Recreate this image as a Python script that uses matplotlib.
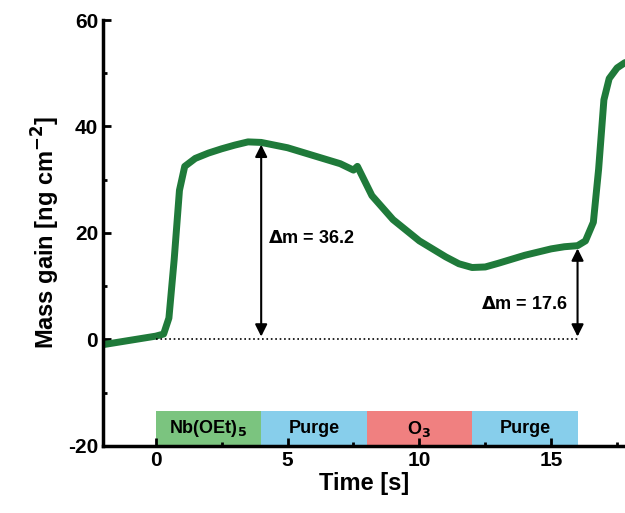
import matplotlib
matplotlib.use("Agg")
import matplotlib.pyplot as plt
import numpy as np

t = [-2, -1, 0, 0.3, 0.5, 0.7, 0.9, 1.1, 1.5, 2, 2.5, 3, 3.5, 4, 5, 6, 7, 7.5, 7.65, 7.8, 8.2, 9, 10, 11, 11.5, 12, 12.5, 13, 14, 15, 15.5, 16, 16.3, 16.6, 16.8, 17, 17.2, 17.5, 17.8]
m = [-1, -0.2, 0.6, 1, 4, 15, 28, 32.5, 34, 35, 35.8, 36.5, 37.1, 37, 36, 34.5, 33, 31.8, 32.5, 31, 27, 22.5, 18.5, 15.5, 14.2, 13.5, 13.6, 14.3, 15.8, 17, 17.4, 17.6, 18.5, 22, 32, 45, 49, 51, 52]
phases = ["Nb(OEt)$_5$", "Purge", "O$_3$", "Purge"]
starts = [0, 4, 8, 12]
ends = [4, 8, 12, 16]
colors = ["#7bc47f", "#87ceeb", "#f08080", "#87ceeb"]

plt.rcParams['font.family'] = ['Liberation Sans', 'DejaVu Sans']
plt.rcParams['font.weight'] = 'bold'
plt.rcParams['axes.unicode_minus'] = False
plt.rcParams['mathtext.default'] = 'bf'
fig = plt.figure(figsize=(6.25, 5.13), dpi=100)
ax = fig.add_axes([103 / 625, 0.131, 1 - 103 / 625, 0.83])
for s, e, c, lab in zip(starts, ends, colors, phases):
    ax.axvspan(s, e, ymin=0, ymax=(-13.5 + 20) / 80, color=c, lw=0)
    ax.text((s + e) / 2, -16.8, lab, ha='center', va='center', fontsize=13, fontweight='bold')
ax.plot(t, m, color='#1f7a3a', lw=5, solid_capstyle='round')
ax.plot([0, 16], [0, 0], color='black', ls=':', lw=1.2)
ax.annotate('', xy=(4, 37.1), xytext=(4, 0), arrowprops=dict(arrowstyle='<|-|>', color='black', lw=1.5, mutation_scale=18))
ax.annotate('', xy=(16, 17.6), xytext=(16, 0), arrowprops=dict(arrowstyle='<|-|>', color='black', lw=1.5, mutation_scale=18))
ax.text(4.25, 19, r'$\Delta$m = 36.2', fontsize=13, fontweight='bold', va='center')
ax.text(15.65, 6.5, r'$\Delta$m = 17.6', fontsize=13, fontweight='bold', va='center', ha='right')
ax.set_xticks([0, 5, 10, 15])
ax.set_yticks([-20, 0, 20, 40, 60])
ax.set_xticks(np.arange(-2.5, 18, 2.5), minor=True)
ax.set_yticks(np.arange(-20, 61, 10), minor=True)
ax.set_xlim(-2, 17.8)
ax.set_ylim(-20, 60)
ax.tick_params(axis='both', which='major', direction='in', length=6, width=2, labelsize=15)
ax.tick_params(axis='both', which='minor', direction='in', length=3, width=2)
for s in ['top', 'right']:
    ax.spines[s].set_visible(False)
for s in ['left', 'bottom']:
    ax.spines[s].set_linewidth(2.5)
ax.set_xlabel('Time [s]', fontsize=17, fontweight='bold', labelpad=2)
ax.set_ylabel('Mass gain [ng cm$^{-2}$]', fontsize=17, fontweight='bold')
fig.savefig('out.png', dpi=100)
